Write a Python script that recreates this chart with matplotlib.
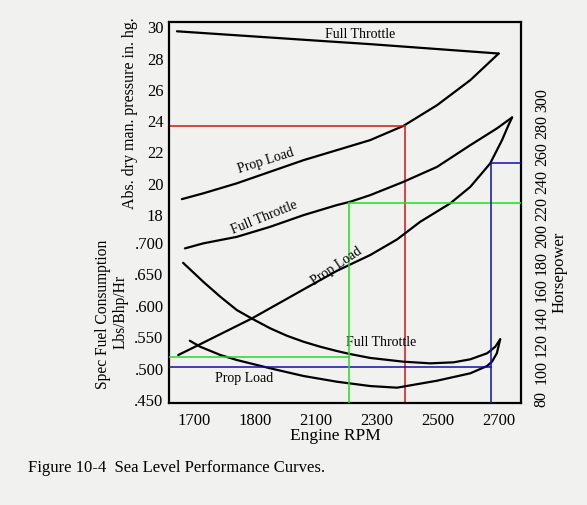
import numpy as np
import matplotlib
matplotlib.use('Agg')
import matplotlib.pyplot as plt

plt.rcParams['font.family'] = ['Liberation Serif', 'DejaVu Serif']

# engine rpm tick labels (drawn evenly spaced in the original)
rpm_ticks = [1700, 1800, 2100, 2300, 2500, 2700]

# manifold pressure curves (in. hg)
ft_map_rpm = [1672, 2136, 2277, 2698]
ft_map = [29.74, 29.1, 28.92, 28.32]
pl_map_rpm = [1680, 1715, 1770, 1874, 2038, 2168, 2277, 2386, 2496, 2605, 2698]
pl_map = [19.02, 19.39, 20.03, 20.77, 21.51, 22.15, 22.79, 23.70, 25.02, 26.62, 28.32]

# horsepower curves
ft_hp_rpm = [1685, 1715, 1770, 1874, 2038, 2168, 2211, 2277, 2386, 2496, 2605, 2692, 2742]
ft_hp = [190.9, 194.6, 199.4, 206.8, 215.4, 222.8, 225.2, 230.1, 239.9, 250.9, 266.9, 279.2, 287.3]
pl_hp_rpm = [1674, 1707, 1795, 2038, 2168, 2277, 2365, 2441, 2539, 2605, 2670, 2709, 2730, 2742]
pl_hp = [112.4, 119.7, 139.4, 160.7, 174.4, 186.0, 197.5, 210.5, 224.0, 236.2, 253.4, 270.6, 281.6, 287.3]

# specific fuel consumption curves (lbs/bhp/hr)
ft_sfc_rpm = [1682, 1715, 1743, 1770, 1796, 1874, 1956, 2038, 2113, 2168, 2211, 2277,
              2386, 2474, 2550, 2605, 2660, 2687, 2703]
ft_sfc = [0.6686, 0.6384, 0.6145, 0.5933, 0.579, 0.5642, 0.5524, 0.5428, 0.5349, 0.528,
          0.5232, 0.517, 0.511, 0.5084, 0.510, 0.5148, 0.5244, 0.5349, 0.5467]
pl_sfc_rpm = [1693, 1710, 1743, 1770, 1874, 2038, 2168, 2277, 2365, 2496, 2605, 2660,
              2676, 2692, 2703]
pl_sfc = [0.5444, 0.5349, 0.5217, 0.5137, 0.5005, 0.4882, 0.4791, 0.4722, 0.4696, 0.4807,
          0.4925, 0.5041, 0.511, 0.5244, 0.5467]

# worked example lines
red_rpm, red_map = 2390, 23.70
green_rpm, green_hp, green_sfc = 2208, 224, 0.519
blue_rpm, blue_hp, blue_sfc = 2674, 253.5, 0.502

map_ticks = [18, 20, 22, 24, 26, 28, 30]
sfc_ticks = [0.45, 0.50, 0.55, 0.60, 0.65, 0.70]
hp_ticks = list(range(80, 301, 20))

# piecewise scale so the uneven rpm labels sit evenly spaced
xp = [1500, 1600, 1700, 1800, 2100, 2300, 2500, 2700, 2900]
fp = [-2, -1, 0, 1, 2, 3, 4, 5, 6]
def fwd(x):
    return np.interp(x, xp, fp)
def inv(y):
    return np.interp(y, fp, xp)

paper = '#f1f1ef'
fig = plt.figure(figsize=(5.87, 5.05), dpi=100, facecolor=paper)
ax = fig.add_axes([0.288, 0.202, 0.600, 0.754])
ax.set_facecolor(paper)
ax.set_xscale('function', functions=(fwd, inv))
x0, x1 = 1659, 2772
ax.set_xlim(x0, x1)
ax.set_ylim(6.0, 30.32)

ax_sfc = ax.twinx()
ax_sfc.set_ylim(0.4452, 1.052)
ax_hp = ax.twinx()
ax_hp.set_ylim(77.1, 357.4)

lw = 1.6
style = dict(color='black', lw=lw, solid_joinstyle='round', solid_capstyle='round')
ax.plot(ft_map_rpm, ft_map, **style)
ax.plot(pl_map_rpm, pl_map, **style)
ax_hp.plot(ft_hp_rpm, ft_hp, **style)
ax_hp.plot(pl_hp_rpm, pl_hp, **style)
ax_sfc.plot(ft_sfc_rpm, ft_sfc, **style)
ax_sfc.plot(pl_sfc_rpm, pl_sfc, **style)

red, green, blue = '#d41414', '#1ee01e', '#1010a8'
thin = 1.1
ax.plot([x0, red_rpm], [red_map, red_map], color=red, lw=thin)
ax.plot([red_rpm, red_rpm], [red_map, 6.0], color=red, lw=thin)
ax_hp.plot([green_rpm, x1], [green_hp, green_hp], color=green, lw=thin)
ax_hp.plot([green_rpm, green_rpm], [green_hp, 77.1], color=green, lw=thin)
ax_sfc.plot([x0, green_rpm], [green_sfc, green_sfc], color=green, lw=thin)
ax_hp.plot([blue_rpm, x1], [blue_hp, blue_hp], color=blue, lw=thin)
ax_hp.plot([blue_rpm, blue_rpm], [blue_hp, 77.1], color=blue, lw=thin)
ax_sfc.plot([x0, blue_rpm], [blue_sfc, blue_sfc], color=blue, lw=thin)

# curve labels
ax.text(2244, 29.55, 'Full Throttle', fontsize=10, ha='center', va='center')
ax.text(1854, 21.45, 'Prop Load', fontsize=10, ha='center', va='center', rotation=17.5)
ax_hp.text(1844, 213.9, 'Full Throttle', fontsize=10, ha='center', va='center', rotation=22)
ax_hp.text(2166, 177.9, 'Prop Load', fontsize=10, ha='center', va='center', rotation=34)
ax_sfc.text(2313, 0.541, 'Full Throttle', fontsize=10, ha='center', va='center')
ax_sfc.text(1782, 0.485, 'Prop Load', fontsize=10, ha='center', va='center')

# ticks
ax.set_xticks(rpm_ticks)
ax.set_xticklabels([str(r) for r in rpm_ticks])
ax.xaxis.set_minor_locator(matplotlib.ticker.NullLocator())
ax.set_yticks(map_ticks)
ax.set_yticklabels([str(m) for m in map_ticks])
ax.tick_params(axis='x', length=0, pad=7, labelsize=12)
ax.tick_params(axis='y', length=0, pad=4, labelsize=12)

ax_sfc.yaxis.tick_left()
ax_sfc.set_yticks(sfc_ticks)
ax_sfc.set_yticklabels(['.%03d' % round(s * 1000) for s in sfc_ticks])
ax_sfc.tick_params(axis='y', length=0, pad=4, labelsize=12)

ax_hp.set_yticks(hp_ticks)
ax_hp.set_yticklabels([str(h) for h in hp_ticks])
ax_hp.tick_params(axis='y', length=0, pad=9, labelsize=11.5, labelrotation=90)
for lab in ax_hp.get_yticklabels():
    lab.set_va('center')

for a in (ax_sfc, ax_hp):
    for s in a.spines.values():
        s.set_visible(False)
for s in ax.spines.values():
    s.set_linewidth(1.6)

fig.text(0.2215, 0.776, 'Abs. dry man. pressure in. hg.', rotation=90,
         fontsize=11.5, ha='center', va='center')
fig.text(0.176, 0.378, 'Spec Fuel Consumption', rotation=90,
         fontsize=11.2, ha='center', va='center')
fig.text(0.205, 0.382, 'Lbs/Bhp/Hr', rotation=90,
         fontsize=11.2, ha='center', va='center')
fig.text(0.954, 0.461, 'Horsepower', rotation=90,
         fontsize=12, ha='center', va='center')
fig.text(0.572, 0.137, 'Engine RPM', fontsize=12.5, ha='center', va='center')
fig.text(0.0477, 0.073, 'Figure 10-4  Sea Level Performance Curves.',
         fontsize=12, ha='left', va='center')

fig.savefig('out.png', dpi=100, facecolor=paper)
